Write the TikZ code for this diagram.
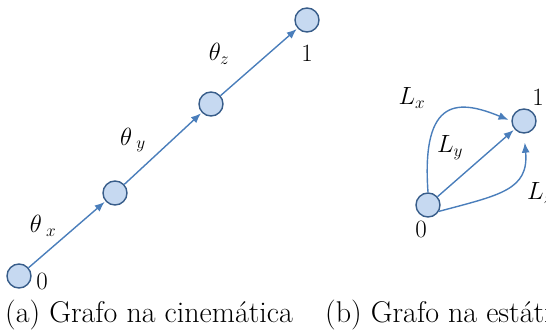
\documentclass[tikz,border=0pt]{standalone}
\usepackage{xcolor}
\usetikzlibrary{arrows.meta,positioning}
\definecolor{edgeblue}{HTML}{4A7EBB}
\definecolor{vertfill}{HTML}{C6D9F1}
\definecolor{vertline}{HTML}{385D8A}

\begin{document}
\begin{tikzpicture}[
  x=1pt,y=-1pt,
  >={Latex[length=10pt,width=8pt]},
  vert/.style={circle,draw=vertline,line width=1.4pt,fill=vertfill,minimum size=24pt,inner sep=0pt},
  edge/.style={edgeblue,line width=1.4pt,->,shorten >=1pt},
  lbl/.style={font=\fontsize{25}{30}\selectfont,inner sep=0pt},
  caption/.style={font=\fontsize{30}{36}\selectfont,inner sep=0pt,anchor=base west}
]
  \useasboundingbox (0,0) rectangle (546,334);
  \clip (0,0) rectangle (546,334);
  % (a) chain
  \node[vert] (k0) at (19,276) {};
  \node[vert] (k1) at (115,193) {};
  \node[vert] (k2) at (211,104) {};
  \node[vert] (k3) at (307,20) {};
  \draw[edge] (k0) -- (k1);
  \draw[edge] (k1) -- (k2);
  \draw[edge] (k2) -- (k3);
  \node[lbl] (k0lbl) at (42,281) {$0$};
  \node[lbl] (k3lbl) at (307,53) {$1$};
  \node[lbl] (tx) at (43,226) {$\theta_{\;x}$};
  \node[lbl] (ty) at (133,140) {$\theta_{\;y}$};
  \node[lbl] (tz) at (219,54) {$\theta_z$};
  % (b) static
  \node[vert] (s0) at (428,205) {};
  \node[vert] (s1) at (524,121) {};
  \draw[edge,shorten >=3pt] (s0.90) .. controls (421,95) and (460,100) .. (s1.west);
  \draw[edge] (s0) -- (s1);
  \draw[edge,shorten >=9pt] (s0.-30) .. controls (500,195) and (529,190) .. (s1.south);
  \node[lbl] (s0lbl) at (421,229) {$0$};
  \node[lbl] (s1lbl) at (538,97) {$1$};
  \node[lbl] (lx) at (412,98) {$L_x$};
  \node[lbl] (ly) at (450,148) {$L_y$};
  \node[lbl] (lz) at (540,193) {$L_z$};
  % captions
  \node[caption] (capa) at (5,322) {(a) Grafo na cinemática};
  \node[caption] (capb) at (325,322) {(b) Grafo na estática};
\end{tikzpicture}
\end{document}
